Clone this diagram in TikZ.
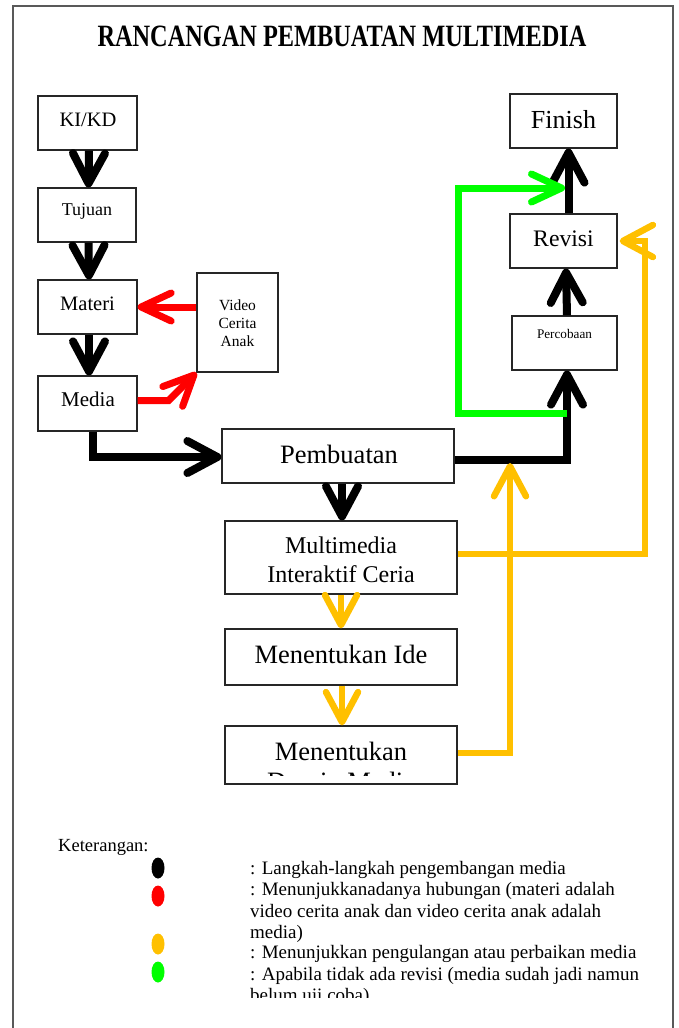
\documentclass[tikz,border=0pt]{standalone}
\usepackage{fontspec}
\setmainfont{Liberation Serif}
\usepackage{graphicx}
\usetikzlibrary{arrows.meta,shapes.geometric}
\definecolor{ylw}{HTML}{FFC000}
\definecolor{grn}{HTML}{00FF00}
\definecolor{rd}{HTML}{FF0000}
\newcommand{\fsz}[1]{\fontsize{#1}{1.15\dimexpr #1pt\relax}\selectfont}
\tikzset{
  box/.style={draw=black!85, line width=1.3pt, inner sep=0pt, fill=white},
  txt/.style={inner sep=0pt, anchor=base},
  blk/.style={draw=black, line width=8pt, -{Straight Barb[length=30pt,width=32pt,round]}},
  yarr/.style={draw=ylw, line width=6.5pt, -{Straight Barb[length=30pt,width=32pt,round]}},
  garr/.style={draw=grn, line width=7pt, -{Straight Barb[length=30pt,width=28pt,round]}},
  rarr/.style={draw=rd, line width=7pt, -{Straight Barb[length=30pt,width=28pt,round]}},
  dot/.style={ellipse, minimum width=13pt, minimum height=21pt, inner sep=0pt},
}
\begin{document}
\begin{tikzpicture}[x=1pt,y=-1pt]
\useasboundingbox (0,0) rectangle (678,1028);
% frame
\draw[black!65, line width=1.5pt] (13,1028) -- (13,6) -- (673,6) -- (673,1028);
% title
\node[txt] (title) at (342,46) {\scalebox{0.785}[1]{\fsz{31}\bfseries RANCANGAN PEMBUATAN MULTIMEDIA}};
% boxes
\node[box, minimum width=99pt, minimum height=54pt] (kikd) at (87.5,123) {};
\node[box, minimum width=98pt, minimum height=54pt] (tujuan) at (87,215) {};
\node[box, minimum width=99pt, minimum height=54pt] (materi) at (87.5,307) {};
\node[box, minimum width=99pt, minimum height=55pt] (media) at (87.5,403.5) {};
\node[box, minimum width=81pt, minimum height=99pt] (video) at (237.5,322.5) {};
\node[box, minimum width=232pt, minimum height=54pt] (pemb) at (338,456) {};
\node[box, minimum width=232pt, minimum height=73pt] (mic) at (341,557.5) {};
\node[box, minimum width=232pt, minimum height=56pt] (ide) at (341,657) {};
\node[box, minimum width=232pt, minimum height=58pt] (desain) at (341,755) {};
\node[box, minimum width=107pt, minimum height=54pt] (finish) at (563.5,121) {};
\node[box, minimum width=107pt, minimum height=54pt] (revisi) at (563.5,241) {};
\node[box, minimum width=105pt, minimum height=54pt] (perc) at (564.5,343) {};
% texts
\node[txt] (tkikd) at (88,126) {\fsz{20.5}KI/KD};
\node[txt] (ttujuan) at (87,215) {\fsz{18}Tujuan};
\node[txt] (tmateri) at (87.5,310) {\fsz{20.5}Materi};
\node[txt] (tmedia) at (88,406) {\fsz{21}Media};
\node[inner sep=0pt, align=center, font=\fontsize{15.5}{18}\selectfont] (tvideo) at (237.5,323) {Video\\Cerita\\Anak};
\node[txt] (tpemb) at (339,463) {\fsz{26.5}Pembuatan};
\node[txt] (tmic1) at (341,553) {\fsz{24}Multimedia};
\node[txt] (tmic2) at (341,582) {\fsz{24}Interaktif Ceria};
\node[txt] (tide) at (341,663) {\fsz{26.5}Menentukan Ide};
\node[txt] (tdes1) at (341,760) {\fsz{26.5}Menentukan};
\begin{scope}
\clip (225,726) rectangle (457,775);
\node[txt] (tdes2) at (341,790) {\fsz{26.5}Desain Media};
\end{scope}
\node[txt] (tfinish) at (563.5,128) {\fsz{26}Finish};
\node[txt] (trevisi) at (563.5,246) {\fsz{23.7}Revisi};
\node[txt] (tperc) at (564.5,338) {\fsz{13.2}Percobaan};
% coordinates
\coordinate (gA) at (567,413);
\coordinate (gB) at (565,188);
\coordinate (yT) at (510,463);
% black arrows
\draw[blk] ([xshift=1.5pt]kikd.south) -- ([xshift=1.5pt]tujuan.north);
\draw[blk] ([xshift=1.5pt]tujuan.south) -- ([xshift=1.5pt]materi.north);
\draw[blk] ([xshift=1.5pt]materi.south) -- ([xshift=1.5pt]media.north);
\draw[blk] ([xshift=5.5pt]media.south) |- ([yshift=-1pt]pemb.west);
\draw[blk] ([yshift=-4pt]pemb.east) -| ([xshift=2.5pt]perc.south);
\draw[blk] ([xshift=2.5pt]perc.north) -- ([xshift=2.5pt]revisi.south);
\draw[blk] ([xshift=5pt]revisi.north) -- ([xshift=5pt]finish.south);
\draw[blk] ([xshift=4pt]pemb.south) -- ([xshift=1pt]mic.north);
% red arrows
\draw[rarr] (video.west |- materi.east) -- (materi.east);
\draw[rarr] ([yshift=3pt]media.east) -- ++(31,0) -- (video.south west);
% yellow arrows
\draw[yarr] (mic.south) -- (ide.north);
\draw[yarr] ([xshift=1pt]ide.south) -- ([xshift=1pt]desain.north);
\draw[yarr] ([yshift=2pt]desain.east) -| (yT);
\draw[yarr] ([yshift=3.5pt]mic.east) -- (645,554) -- (645,241) -- ([xshift=2pt]revisi.east);
% green arrow
\draw[garr] (gA) -- (458,413) -- (458,188) -- (gB);
% legend
\node[txt, anchor=base west] (ket) at (58,851) {\fsz{18.5}Keterangan:};
\node[dot, fill=black] (d1) at (158,868) {};
\node[dot, fill=rd] (d2) at (158,896) {};
\node[dot, fill=ylw] (d3) at (158,944) {};
\node[dot, fill=grn] (d4) at (158,972) {};
\node[txt, anchor=base west] (l1) at (250,874) {\fsz{19}: Langkah-langkah pengembangan media};
\node[txt, anchor=base west] (l2) at (250,895) {\fsz{19}: Menunjukkanadanya hubungan (materi adalah};
\node[txt, anchor=base west] (l3) at (250,917) {\fsz{19}video cerita anak dan video cerita anak adalah};
\node[txt, anchor=base west] (l4) at (250,938) {\fsz{19}media)};
\node[txt, anchor=base west] (l5) at (250,958) {\fsz{19}: Menunjukkan pengulangan atau perbaikan media};
\node[txt, anchor=base west] (l6) at (250,980) {\fsz{19}: Apabila tidak ada revisi (media sudah jadi namun};
\begin{scope}
\clip (0,0) rectangle (678,997);
\node[txt, anchor=base west] (l7) at (250,1001) {\fsz{19}belum uji coba)};
\end{scope}
\end{tikzpicture}
\end{document}
